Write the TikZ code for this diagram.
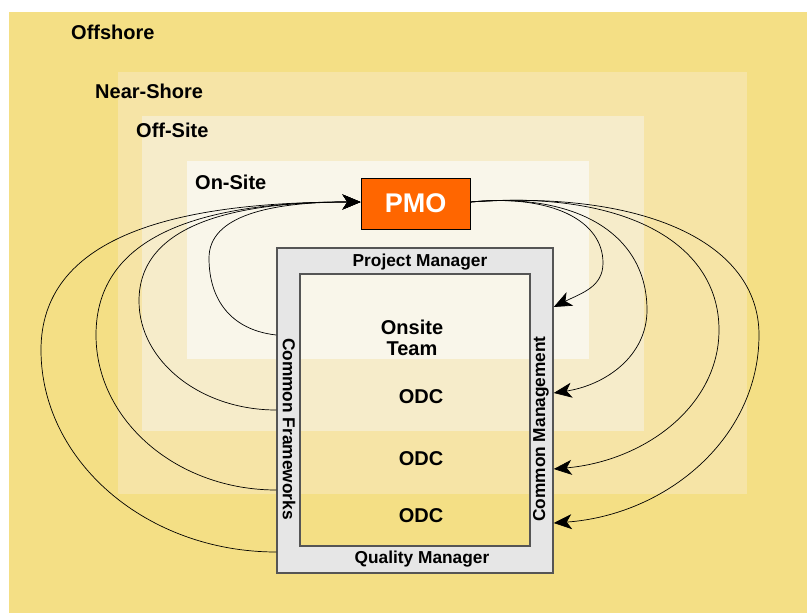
\documentclass[tikz,border=0pt]{standalone}
\usepackage{fontspec}
\setmainfont{Liberation Sans}
\usetikzlibrary{arrows.meta}
\definecolor{offc}{HTML}{F4DF85}
\definecolor{nearc}{HTML}{F6E4A6}
\definecolor{offsitec}{HTML}{F6ECCA}
\definecolor{onsitec}{HTML}{F9F6EA}
\definecolor{pmoc}{HTML}{FF6600}
\definecolor{framegray}{HTML}{E6E6E6}
\definecolor{framedraw}{HTML}{555555}
\tikzset{
  regionbox/.style={draw=none, inner sep=0pt, outer sep=0pt},
  regionlabel/.style={anchor=west, inner sep=0pt, font=\fontsize{20}{22}\selectfont\bfseries},
  pmobox/.style={draw=black, line width=1pt, fill=pmoc, text=white, inner sep=0pt,
    minimum width=109pt, minimum height=51pt, font=\fontsize{27}{30}\selectfont\bfseries},
  framebox/.style={draw=framedraw, line width=1.5pt, inner sep=0pt},
  framelabel/.style={inner sep=0pt, font=\fontsize{17.3}{19}\selectfont\bfseries},
  teamlabel/.style={inner sep=0pt, align=center, font=\fontsize{20}{21}\selectfont\bfseries},
  conn/.style={draw=black, line width=0.7pt, -{Stealth[length=18pt, width=15pt, inset=5pt]}},
}
\begin{document}
\begin{tikzpicture}[x=1pt, y=-1pt]
\useasboundingbox (0,0) rectangle (807,613);
\fill[white] (0,0) rectangle (807,613);
% nested regions
\node[regionbox, fill=offc, minimum width=798pt, minimum height=601pt] (offshore) at (408,312.5) {};
\node[regionbox, fill=nearc, minimum width=629pt, minimum height=422pt] (near) at (432.5,283) {};
\node[regionbox, fill=offsitec, minimum width=502pt, minimum height=315pt] (offsite) at (393,273.5) {};
\node[regionbox, fill=onsitec, minimum width=402pt, minimum height=198pt] (onsite) at (388,260) {};
\node[regionlabel] (loff) at (71,32) {Offshore};
\node[regionlabel] (lnear) at (95,91) {Near-Shore};
\node[regionlabel] (loffsite) at (136,130) {Off-Site};
\node[regionlabel] (lonsite) at (195,182) {On-Site};
% gray frame
\fill[framegray, even odd rule] (277,248) rectangle (553,573) (300,274) rectangle (530,546);
\node[framebox, minimum width=276pt, minimum height=325pt] (frame) at (415,410.5) {};
\node[framebox, minimum width=230pt, minimum height=272pt] (inner) at (415,410) {};
\node[framelabel] (pm) at (420,262) {Project Manager};
\node[framelabel] (qm) at (422,559) {Quality Manager};
\node[framelabel, rotate=-90] (cf) at (289,429) {Common Frameworks};
\node[framelabel, rotate=90] (cm) at (541,429) {Common Management};
\node[teamlabel] (team) at (412,338) {Onsite\\Team};
\node[teamlabel] (odc1) at (421,397) {ODC};
\node[teamlabel] (odc2) at (421,459) {ODC};
\node[teamlabel] (odc3) at (421,516) {ODC};
% PMO
\node[pmobox] (pmo) at (415.5,203.5) {PMO};
% connector end points on the frame
\coordinate (l1) at (frame.west |- 0,335);
\coordinate (l2) at (frame.west |- 0,410);
\coordinate (l3) at (frame.west |- 0,490);
\coordinate (l4) at (frame.west |- 0,552);
\coordinate (r1) at (frame.east |- 0,307);
\coordinate (r2) at (frame.east |- 0,393);
\coordinate (r3) at (frame.east |- 0,469);
\coordinate (r4) at (frame.east |- 0,523);
\coordinate (pin) at (pmo.west |- 0,202);
\coordinate (pout) at (pmo.east |- 0,202);
% left connectors: frame -> PMO
\draw[conn] (l1) .. controls +(-45,-5) and +(0,42) .. (209,258) .. controls +(0,-42) and +(-91,0) .. (pin);
\draw[conn] (l2) .. controls +(-76,0) and +(0,60) .. (139,301) .. controls +(0,-74) and +(-133,0) .. (pin);
\draw[conn] (l3) .. controls +(-100,0) and +(0,85) .. (96,335) .. controls +(0,-100) and +(-159,0) .. (pin);
\draw[conn] (l4) .. controls +(-130,0) and +(0,111) .. (41,350) .. controls +(0,-111) and +(-192,0) .. (pin);
% right connectors: PMO -> frame
\draw[conn] (pout) .. controls +(80,-8) and +(0,-43) .. (603,263) .. controls +(0,24) and +(28,-14) .. (r1);
\draw[conn] (pout) .. controls +(106,-10) and +(0,-76) .. (647,310) .. controls +(0,46) and +(52,-8) .. (r2);
\draw[conn] (pout) .. controls +(149,-12) and +(0,-90) .. (719,330) .. controls +(0,76) and +(91,-8) .. (r3);
\draw[conn] (pout) .. controls +(173,-12) and +(0,-93) .. (759,335) .. controls +(0,103) and +(113,-8) .. (r4);
\end{tikzpicture}
\end{document}
